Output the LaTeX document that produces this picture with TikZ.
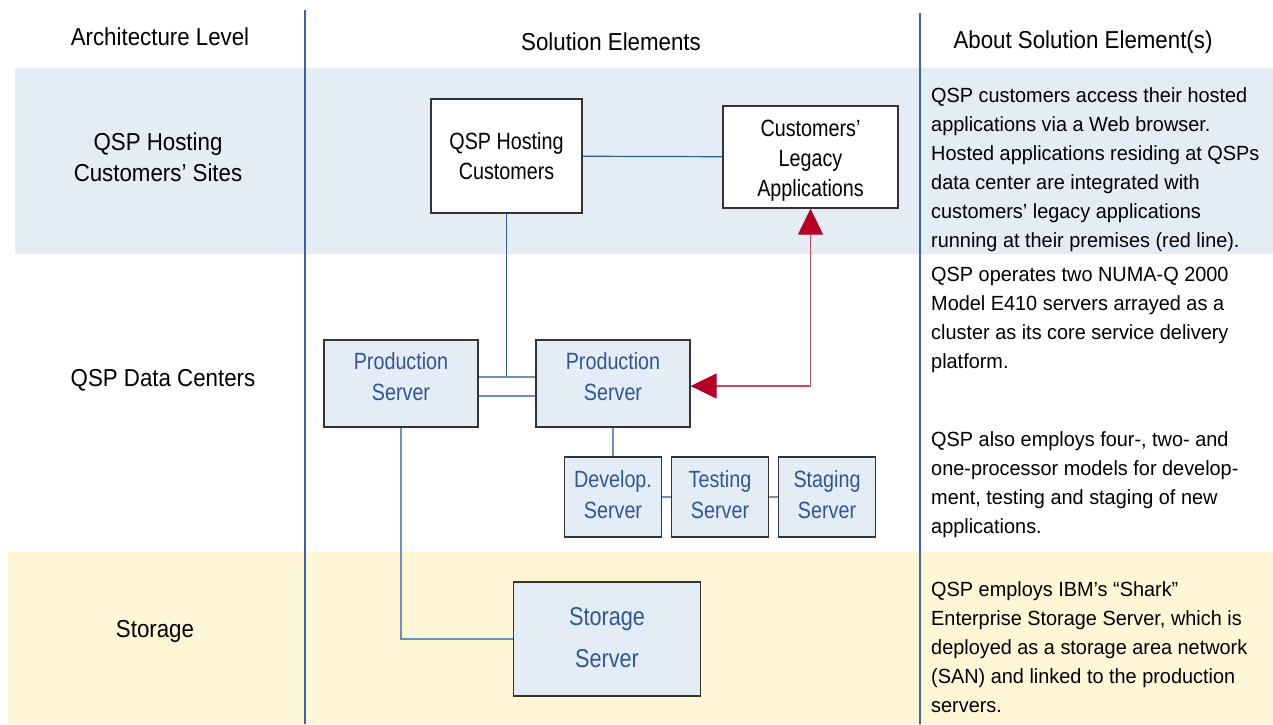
\documentclass[tikz,border=0pt]{standalone}
\usepackage{fontspec}
\setmainfont[FakeStretch=0.84]{Liberation Sans}
\newfontfamily\descfont[FakeStretch=0.97]{Liberation Sans}
\newfontfamily\labelfont[FakeStretch=0.91]{Liberation Sans}
\usetikzlibrary{arrows.meta}
\definecolor{bandblue}{RGB}{228,236,245}
\definecolor{bandyellow}{RGB}{255,246,214}
\definecolor{boxfill}{RGB}{228,236,245}
\definecolor{boxtext}{RGB}{47,87,150}
\definecolor{linkblue}{RGB}{110,145,188}
\definecolor{darklink}{RGB}{50,90,155}
\definecolor{sepblue}{RGB}{60,100,160}
\definecolor{arrowred}{RGB}{182,0,40}
\definecolor{redline}{RGB}{210,70,100}
\tikzset{
  txt/.style={font=\labelfont\fontsize{24.5}{31}\selectfont, inner sep=0pt, align=center},
  desc/.style={font=\descfont\fontsize{20.5}{29}\selectfont, inner sep=0pt, align=left, anchor=north west},
  whitebox/.style={draw=black!80, line width=1.3pt, fill=white, inner sep=0pt, align=center,
     font=\fontsize{23.5}{30}\selectfont},
  srvbox/.style={draw=black!80, line width=1.3pt, fill=boxfill, inner sep=0pt, align=center,
     text=boxtext, font=\fontsize{23.5}{31}\selectfont},
  link/.style={draw=linkblue, line width=1.2pt},
  hostlink/.style={draw=darklink, line width=1.2pt},
  redlink/.style={draw=redline, line width=1.2pt,
     {Triangle[length=26pt,width=25pt,color=arrowred]}-{Triangle[length=26pt,width=25pt,color=arrowred]}},
  sep/.style={draw=sepblue, line width=1.2pt}
}
\begin{document}
\begin{tikzpicture}[x=1pt,y=-1pt]
\useasboundingbox (0,0) rectangle (1273,724);
% bands
\fill[bandblue] (15,68) rectangle (1273,254);
\fill[bandyellow] (8,552) rectangle (1273,724);
% column separators
\draw[sep] (305,10) -- (305,724);
\draw[sep] (920,13) -- (920,724);
% headers
\node[txt] (h1) at (160,37) {Architecture Level};
\node[txt] (h2) at (611,42) {Solution Elements};
\node[txt] (h3) at (1083,42) {About Solution Element(s)};
% row labels
\node[txt] (r1) at (158,157) {QSP Hosting\\Customers’ Sites};
\node[txt] (r2) at (163,380) {QSP Data Centers};
\node[txt] (r3) at (155,631) {Storage};
% boxes
\node[whitebox, minimum width=151pt, minimum height=114pt] (host) at (506.5,156) {QSP Hosting\\Customers};
\node[whitebox, minimum width=175pt, minimum height=102pt, text height=83pt] (legacy) at (810.5,157) {Customers’\\Legacy\\Applications};
\node[srvbox, minimum width=154pt, minimum height=87pt, text depth=14pt] (prod1) at (401,383.5) {Production\\Server};
\node[srvbox, minimum width=154pt, minimum height=87pt, text depth=14pt] (prod2) at (613,383.5) {Production\\Server};
\node[srvbox, minimum width=97pt, minimum height=80pt, text depth=5pt] (dev) at (613,497) {Develop.\\Server};
\node[srvbox, minimum width=97pt, minimum height=80pt, text depth=5pt] (test) at (720,497) {Testing\\Server};
\node[srvbox, minimum width=97pt, minimum height=80pt, text depth=5pt] (stage) at (827,497) {Staging\\Server};
\node[srvbox, minimum width=187pt, minimum height=114pt, font=\fontsize{25.8}{42}\selectfont, text depth=4pt] (stor) at (607,639) {Storage\\Server};
% connectors
\coordinate (j1) at (506.5,377);
\coordinate (j2) at (506.5,396);
\draw[hostlink] (host) -- (legacy);
\draw[hostlink] (host.south) -- (j1);
\draw[link] (prod1.east |- j1) -- (prod2.west |- j1);
\draw[link] (prod1.east |- j2) -- (prod2.west |- j2);
\draw[link] (prod2.south) -- (dev.north);
\draw[link] (dev) -- (test);
\draw[link] (test) -- (stage);
\draw[link] (prod1.south) -- (prod1.south |- stor.west) -- (stor.west);
\draw[redlink] (legacy.south) |- ([yshift=-2.5pt]prod2.east);
% descriptions
\node[desc] (d1) at (931,87) {QSP customers access their hosted\\applications via a Web browser.\\Hosted applications residing at QSPs\\data center are integrated with\\customers’ legacy applications\\running at their premises (red line).};
\node[desc] (d2) at (931,267) {QSP operates two NUMA-Q 2000\\Model E410 servers arrayed as a\\cluster as its core service delivery\\platform.};
\node[desc] (d3) at (931,431) {QSP also employs four-, two- and\\one-processor models for develop-\\ment, testing and staging of new\\applications.};
\node[desc] (d4) at (931,581) {QSP employs IBM’s “Shark”\\Enterprise Storage Server, which is\\deployed as a storage area network\\(SAN) and linked to the production\\servers.};
\end{tikzpicture}
\end{document}
